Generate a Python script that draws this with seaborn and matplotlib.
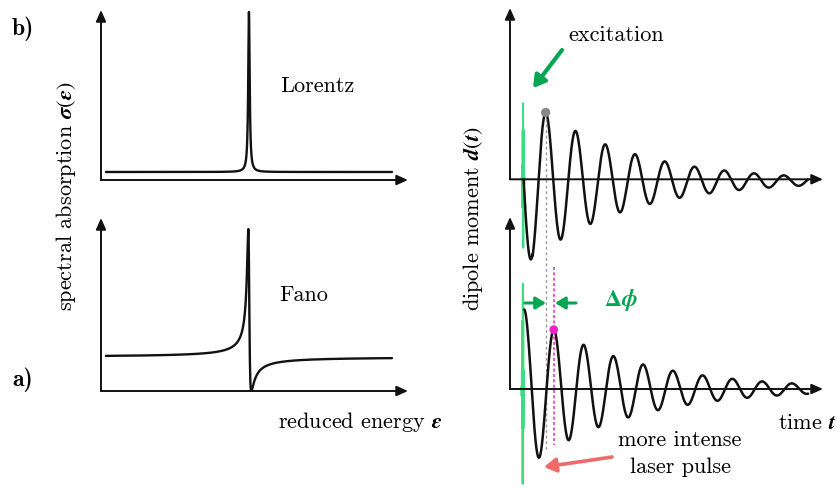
import numpy as np
import pandas as pd
import seaborn as sns
import matplotlib
matplotlib.use("Agg")
import matplotlib.pyplot as plt
from matplotlib.patches import FancyArrowPatch

sns.set_theme(style="white")
plt.rcParams["font.family"] = ["cmr10", "DejaVu Serif"]
plt.rcParams["mathtext.fontset"] = "stix"
plt.rcParams["axes.unicode_minus"] = False
plt.rcParams["text.color"] = "black"

# ---------------- data ----------------
# spectral panels (reduced energy units)
energy_axis = [-120.0, 129.0]
energy_curve = [-116.0, 116.0]
lorentz_baseline = 0.05
lorentz_height = 1.0
lorentz_halfwidth = 0.7
lorentz_ytop = 1.0625
fano_baseline = 1.0
fano_q = -1.94
fano_ytop = 5.09

# dipole panels (time in oscillation periods, amplitude in arb. units)
time_axis_end = 10.52
time_curve_end = 10.02
weak = {"start": 0.457, "amp": 1.0, "tau": 3.2, "offset": -0.02}
strong = {"start": 0.479, "amp": 0.92, "tau": 3.4}
dip_ytop = [1.98, 1.99]
pulse_center = [0.44, 0.43]
pulse_amp = [0.88, 1.22]
pulse_width = 0.025
pulse_cycles = 60.0

BLACK = "#111111"
GREEN = "#00a651"
PULSE_GREEN = "#3ddc80"
MAGENTA = "#ee22cc"
GREY = "#9a9a9a"
RED = "#f06a6a"

W, H = 840, 488
fig = plt.figure(figsize=(W / 100, H / 100), dpi=100)


def axes_px(x0, x1, ytop, ybot):
    return fig.add_axes([x0 / W, 1 - ybot / H, (x1 - x0) / W, (ybot - ytop) / H])


def fpx(x, y):
    return (x / W, 1 - y / H)


def draw_axes_arrows(ax):
    ax.set_axis_off()
    for end in [(1, 0), (0, 1)]:
        ax.annotate("", xy=end, xytext=(0, 0), xycoords="axes fraction",
                    textcoords="axes fraction",
                    arrowprops=dict(arrowstyle="-|>,head_length=0.45,head_width=0.2",
                                    lw=1.4, color=BLACK, shrinkA=0, shrinkB=0,
                                    mutation_scale=15))


# ---------------- left: spectral absorption ----------------
eps = np.concatenate([np.linspace(energy_curve[0], -12, 600),
                      np.linspace(-12, 12, 6000),
                      np.linspace(12, energy_curve[1], 600)])
lorentz = lorentz_baseline + lorentz_height / (1 + (eps / lorentz_halfwidth) ** 2)
fano = fano_baseline * (fano_q + eps) ** 2 / (1 + eps ** 2)

axL1 = axes_px(101, 408, 10, 180)
sns.lineplot(x=eps, y=lorentz, ax=axL1, color=BLACK, lw=1.7, estimator=None, sort=False)
axL1.set_xlim(energy_axis)
axL1.set_ylim(0, lorentz_ytop)
draw_axes_arrows(axL1)

axL2 = axes_px(101, 408, 218, 391)
sns.lineplot(x=eps, y=fano, ax=axL2, color=BLACK, lw=1.7, estimator=None, sort=False)
axL2.set_xlim(energy_axis)
axL2.set_ylim(0, fano_ytop)
draw_axes_arrows(axL2)

# ---------------- right: dipole moment ----------------
def dipole_weak(t):
    s = t - weak["start"]
    return -weak["amp"] * np.exp(-s / weak["tau"]) * np.sin(2 * np.pi * s) + weak["offset"] * (s > 0.3)


def dipole_strong(t):
    s = t - strong["start"]
    return strong["amp"] * np.exp(-s / strong["tau"]) * np.cos(2 * np.pi * s)


def pulse(t, c, a):
    s = t - c
    return a * np.exp(-(s / pulse_width) ** 2) * np.cos(2 * np.pi * pulse_cycles * s)


t1 = np.linspace(weak["start"], time_curve_end, 4000)
t2 = np.linspace(strong["start"], time_curve_end, 4000)
d1 = dipole_weak(t1)
d2 = dipole_strong(t2)

axR1 = axes_px(510, 823, 8, 179.3)
axR2 = axes_px(510, 823, 217, 389)
for ax, top in zip([axR1, axR2], dip_ytop):
    ax.set_xlim(0, time_axis_end)
    ax.set_ylim(0, top)
    draw_axes_arrows(ax)

for ax, c, a in zip([axR1, axR2], pulse_center, pulse_amp):
    tp = np.linspace(c - 0.07, c + 0.07, 3000)
    sns.lineplot(x=tp, y=pulse(tp, c, a), ax=ax, color=PULSE_GREEN, lw=1.3,
                 estimator=None, sort=False)
for ax, t, d in [(axR1, t1, d1), (axR2, t2, d2)]:
    sns.lineplot(x=t, y=d, ax=ax, color=BLACK, lw=1.8, estimator=None, sort=False)
for ax in [axR1, axR2]:
    for ln in ax.lines:
        ln.set_clip_on(False)

# peaks used to show the phase shift
m1 = (t1 > weak["start"] + 0.5) & (t1 < weak["start"] + 1.0)
i1 = np.argmax(np.where(m1, d1, -9))
m2 = (t2 > strong["start"] + 0.5) & (t2 < strong["start"] + 1.5)
i2 = np.argmax(np.where(m2, d2, -9))
tp1, yp1 = t1[i1], d1[i1]
tp2, yp2 = t2[i2], d2[i2]

axR1.plot([tp1, tp1], [yp1, -3.15], color=GREY, lw=1.0, ls=(0, (2, 2)), clip_on=False)
axR2.plot([tp2, tp2], [1.41, -0.65], color=MAGENTA, lw=1.1, ls=(0, (2, 1.5)), clip_on=False)
sns.scatterplot(x=[tp1], y=[yp1], ax=axR1, color="#888888", s=45, edgecolor="none", zorder=5, clip_on=False)
sns.scatterplot(x=[tp2], y=[yp2], ax=axR2, color=MAGENTA, s=40, edgecolor="none", zorder=5, clip_on=False)

# ---------------- annotations ----------------
def farrow(p0, p1, color, lw, ms, hl=0.5, hw=0.3):
    a = FancyArrowPatch(fpx(*p0), fpx(*p1), transform=fig.transFigure,
                        arrowstyle=f"-|>,head_length={hl},head_width={hw}",
                        mutation_scale=ms, lw=lw, color=color, shrinkA=0, shrinkB=0)
    fig.add_artist(a)


farrow((562, 50), (533, 88), GREEN, 3.0, 14)
farrow((525, 303), (546, 303), GREEN, 2.2, 12)
farrow((576, 303), (555, 303), GREEN, 2.2, 12)
farrow((612, 457), (544, 467), RED, 2.6, 14)

TXT = 16
fig.text(*fpx(23, 29), "b)", family="cmb10", fontsize=17, ha="center", va="center")
fig.text(*fpx(23, 380), "a)", family="cmb10", fontsize=17, ha="center", va="center")
fig.text(*fpx(317, 86), "Lorentz", fontsize=TXT, ha="center", va="center")
fig.text(*fpx(304, 295), "Fano", fontsize=TXT, ha="center", va="center")
fig.text(*fpx(360, 422), r"reduced energy $\mathbfit{\varepsilon}$", fontsize=TXT, ha="center", va="center")
fig.text(*fpx(66, 196), r"spectral absorption $\mathbfit{\sigma}(\mathbfit{\varepsilon})$",
         fontsize=TXT, ha="center", va="center", rotation=90)
fig.text(*fpx(473, 219), r"dipole moment $\mathbfit{d}(\mathbfit{t})$",
         fontsize=TXT, ha="center", va="center", rotation=90)
fig.text(*fpx(616, 35), "excitation", fontsize=TXT, ha="center", va="center")
fig.text(*fpx(621, 300), r"$\mathbf{\Delta}\mathbfit{\phi}$", fontsize=17, color=GREEN,
         ha="center", va="center")
fig.text(*fpx(680, 440), "more intense", fontsize=TXT, ha="center", va="center")
fig.text(*fpx(681, 467), "laser pulse", fontsize=TXT, ha="center", va="center")
fig.text(*fpx(807, 423), r"time $\mathbfit{t}$", fontsize=TXT, ha="center", va="center")

fig.savefig("out.png", dpi=100)
